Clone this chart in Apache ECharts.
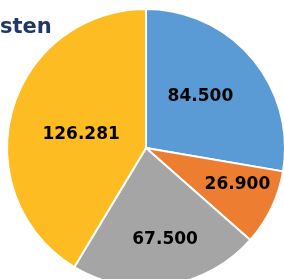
<!DOCTYPE html>
<html>
<head>
<meta charset="utf-8">
<script src="https://cdn.jsdelivr.net/npm/echarts@6/dist/echarts.min.js"></script>
<style>
  html, body { margin: 0; padding: 0; background: #fff; }
  #chart { width: 284px; height: 279px; }
</style>
</head>
<body>
<div id="chart"></div>
<script>
const titleText = 'sten'
const labels = ['84.500', '26.900', '67.500', '126.281']
const values = [84.5, 26.9, 67.5, 126.281]
const colors = ['#5b9bd5', '#ed7d31', '#a5a5a5', '#fdbc22']
// nudge labels to where the original puts them
const labelOffsets = [[-1, -5], [26, 5], [8, 20], [5, 6]]

const chart = echarts.init(document.getElementById('chart'), null, {renderer: 'canvas'})

chart.setOption({
  backgroundColor: '#fff',
  animation: false,
  title: {
    text: titleText,
    left: 0,
    top: 17,
    padding: 0,
    textStyle: {
      fontFamily: 'DejaVu Sans',
      fontWeight: 'bold',
      fontSize: 21,
      color: '#1f3864',
    },
  },
  series: [{
    type: 'pie',
    center: [146, 148],
    radius: [0, 139],
    startAngle: 90,
    clockwise: true,
    itemStyle: {
      borderColor: '#fff',
      borderWidth: 2,
    },
    label: {
      position: 'inside',
      fontFamily: 'DejaVu Sans',
      fontWeight: 'bold',
      fontSize: 17,
      color: '#000',
      formatter: (p) => labels[p.dataIndex],
    },
    labelLine: {show: false},
    data: values.map((v, i) => ({
      value: v,
      itemStyle: {color: colors[i]},
      label: {offset: labelOffsets[i]},
    })),
  }],
})
</script>
</body>
</html>
